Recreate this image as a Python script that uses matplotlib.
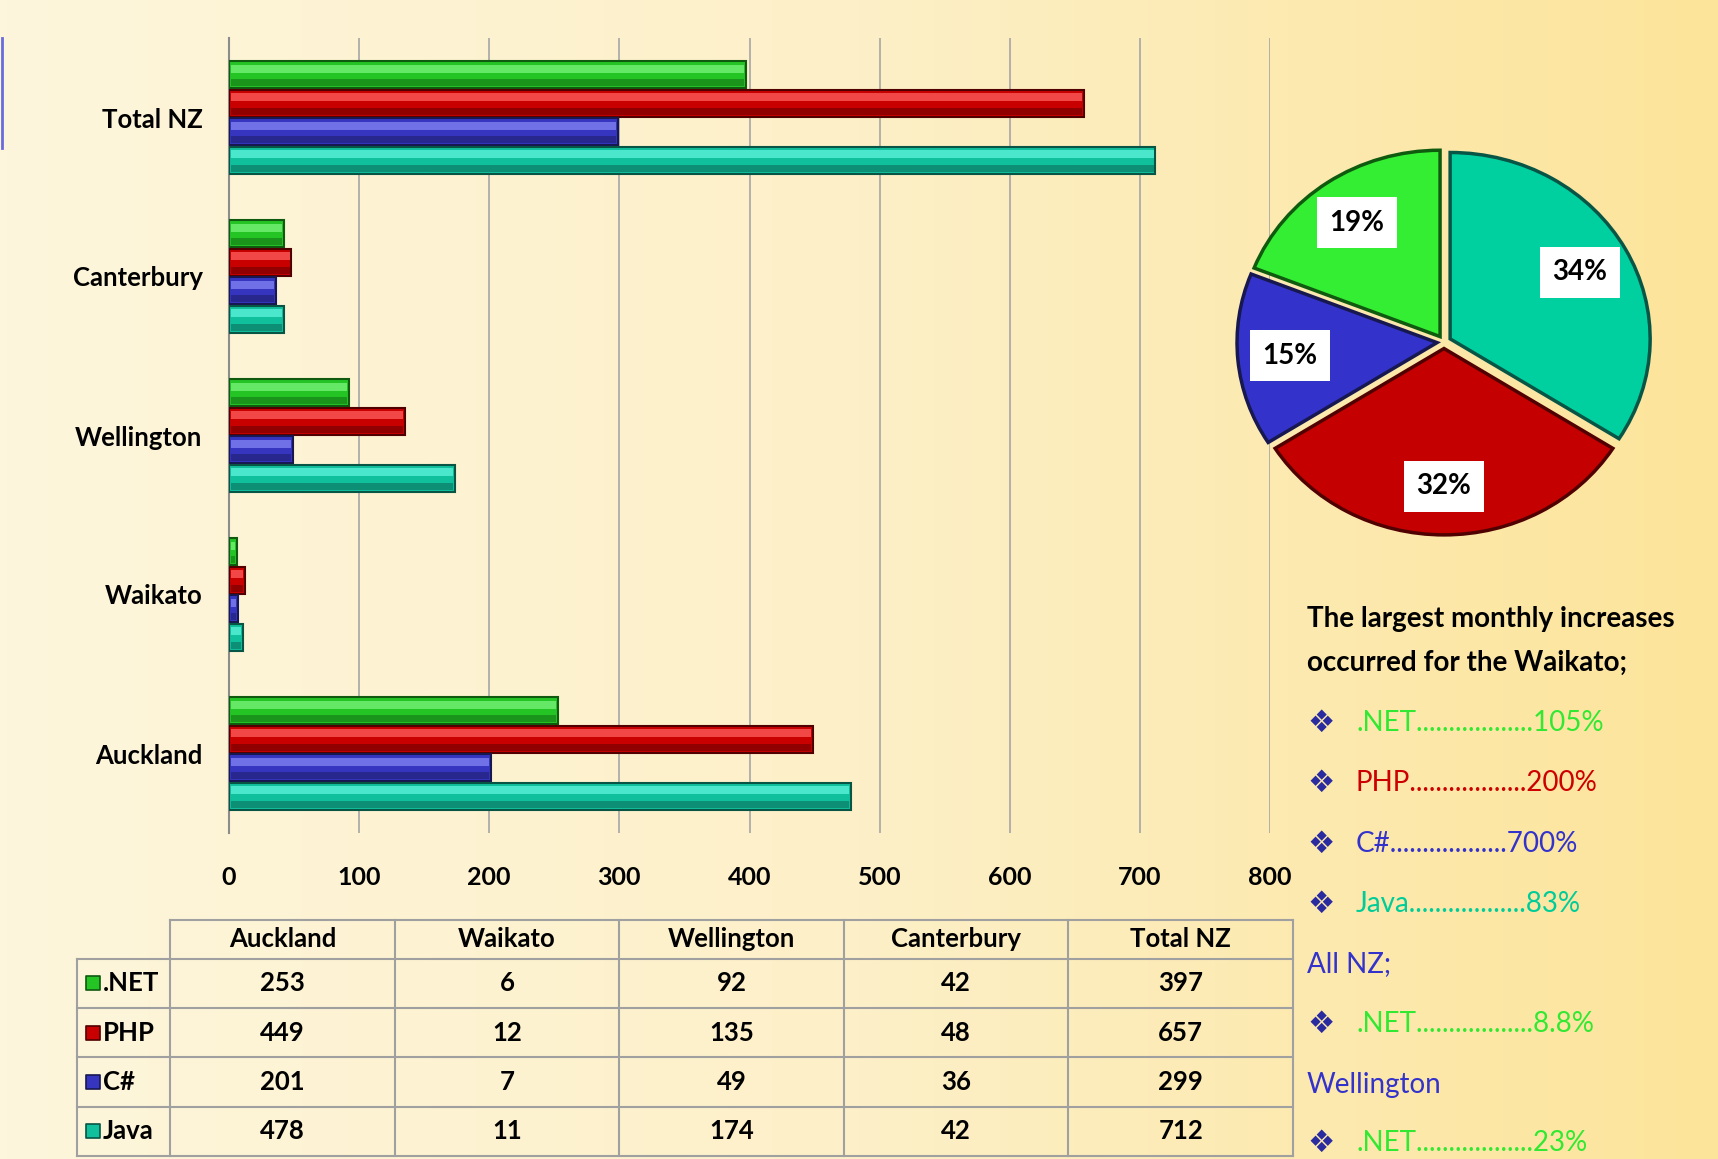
import numpy as np
import matplotlib.pyplot as plt
from matplotlib.colors import LinearSegmentedColormap

plt.rcParams['font.family'] = ['Lato', 'DejaVu Sans']

# Данные
regions = ['Auckland', 'Waikato', 'Wellington', 'Canterbury', 'Total NZ']
langs = ['.NET', 'PHP', 'C#', 'Java']
net_vals = [253, 6, 92, 42, 397]
php_vals = [449, 12, 135, 48, 657]
cs_vals = [201, 7, 49, 36, 299]
java_vals = [478, 11, 174, 42, 712]

# Доли на круговой диаграмме (по часовой стрелке от верха)
pie_names = ['Java', 'PHP', 'C#', '.NET']
pie_pct = [34, 32, 15, 19]

# Прирост за месяц
waikato_incr = ['105%', '200%', '700%', '83%']
allnz_net = '8.8%'
wellington_net = '23%'

# Цвета
base = {'.NET': '#25C425', 'PHP': '#C80000', 'C#': '#3535C0', 'Java': '#10C09C'}
light = {'.NET': '#7CF57C', 'PHP': '#FF6060', 'C#': '#8585F5', 'Java': '#60F5DE'}
dark = {'.NET': '#0F5A0F', 'PHP': '#500000', 'C#': '#181850', 'Java': '#085545'}
pie_col = {'.NET': '#33EE33', 'PHP': '#C40000', 'C#': '#3333CC', 'Java': '#00D0A0'}
txt_col = {'.NET': '#33E833', 'PHP': '#CC0000', 'C#': '#3333CC', 'Java': '#00CC99'}

W, H = 1718, 1159
fig = plt.figure(figsize=(W / 100, H / 100), dpi=100)


def px_axes(x0, y0, x1, y1):
    return fig.add_axes([x0 / W, 1 - y1 / H, (x1 - x0) / W, (y1 - y0) / H])


# Фон с градиентом
bg = fig.add_axes([0, 0, 1, 1], zorder=-10)
cmap = LinearSegmentedColormap.from_list('bg', ['#FEF6DC', '#FDF0C8', '#FCE49A'])
bg.imshow(np.linspace(0, 1, 256)[None, :], aspect='auto', cmap=cmap, extent=[0, 1, 0, 1])
bg.plot([0.001, 0.001], [1 - 38 / H, 1 - 148 / H], color='#6A6AE0', lw=2)
bg.set_xlim(0, 1)
bg.set_ylim(0, 1)
bg.axis('off')

# Столбчатая диаграмма
ax = px_axes(229, 38, 1270, 833)
ax.set_facecolor('none')
y = np.arange(len(regions))
step = 0.179
h = 0.168
series = [net_vals, php_vals, cs_vals, java_vals]
for k, (lang, vals) in enumerate(zip(langs, series)):
    yy = y + (1.5 - k) * step
    vals = np.array(vals)
    ax.barh(yy, vals, height=h, color=base[lang], edgecolor=dark[lang], linewidth=1.5, zorder=3)
    # имитация объёма: светлая полоса сверху, тёмная снизу
    ax.barh(yy + h * 0.22, np.maximum(vals - 3, 0), left=1.5, height=h * 0.3,
            color=light[lang], linewidth=0, alpha=0.75, zorder=4)
    ax.barh(yy - h * 0.3, np.maximum(vals - 3, 0), left=1.5, height=h * 0.25,
            color=dark[lang], linewidth=0, alpha=0.45, zorder=4)

ax.set_xlim(0, 800)
ax.set_ylim(-0.5, 4.5)
ax.set_xticks(range(0, 801, 100))
ax.set_xticklabels([str(v) for v in range(0, 801, 100)], fontsize=18, fontweight='bold')
ax.set_yticks(y)
ax.set_yticklabels(regions, fontsize=18.5, fontweight='bold')
ax.xaxis.grid(True, color='#A6A6A6', lw=1.2)
ax.set_axisbelow(True)
ax.tick_params(axis='x', length=0, pad=24)
ax.tick_params(axis='y', length=0, pad=19)
for s in ['top', 'right', 'bottom']:
    ax.spines[s].set_visible(False)
ax.spines['left'].set_color('#8C8C8C')
ax.spines['left'].set_linewidth(1.5)

# Круговая диаграмма
pax = px_axes(1224, 137, 1664, 547)
wedges, texts, autotexts = pax.pie(
    pie_pct, colors=[pie_col[n] for n in pie_names], startangle=90, counterclock=False,
    explode=[0.035] * 4, autopct=lambda p: f'{p:.0f}%', pctdistance=0.74,
    wedgeprops=dict(linewidth=2.5))
for wdg, n in zip(wedges, pie_names):
    wdg.set_edgecolor(dark[n])
for t in autotexts:
    t.set_fontsize(20)
    t.set_fontweight('bold')
    t.set_color('black')
    t.set_bbox(dict(facecolor='white', edgecolor='none', pad=9))
pax.set_aspect('auto')
pax.set_xlim(-1.1, 1.1)
pax.set_ylim(-1.1, 1.1)

# Таблица
tax = px_axes(77, 920, 1293, 1156)
lab_w = 0.415
hdr_h = 0.78
tax.set_xlim(-lab_w, 5)
tax.set_ylim(0, 4 + hdr_h)
tax.axis('off')
lc = '#A0A0A0'
for yv in range(5):
    tax.plot([-lab_w, 5], [yv, yv], color=lc, lw=1.5, clip_on=False)
tax.plot([0, 5], [4 + hdr_h] * 2, color=lc, lw=1.5, clip_on=False)
tax.plot([-lab_w] * 2, [0, 4], color=lc, lw=1.5, clip_on=False)
for xv in range(6):
    tax.plot([xv, xv], [0, 4 + hdr_h], color=lc, lw=1.5, clip_on=False)
for i, r in enumerate(regions):
    tax.text(i + 0.5, 4 + hdr_h / 2, r, ha='center', va='center', fontsize=18.5, fontweight='bold')
for j, (lang, row) in enumerate(zip(langs, series)):
    yc = 3.5 - j
    tax.scatter(-lab_w + 0.07, yc, marker='s', s=100, color=base[lang], edgecolor=dark[lang], lw=1.2)
    tax.text(-lab_w + 0.115, yc, lang, ha='left', va='center', fontsize=18.5, fontweight='bold')
    for i, v in enumerate(row):
        tax.text(i + 0.5, yc, str(v), ha='center', va='center', fontsize=18.5, fontweight='bold')

# Текст справа
notes = [
    ('The largest monthly increases', 'black', False),
    ('occurred for the Waikato;', 'black', False),
]
for lang, inc in zip(langs, waikato_incr):
    notes.append((lang + '.' * 18 + inc, txt_col[lang], True))
notes.append(('All NZ;', '#3333CC', False))
notes.append(('.NET' + '.' * 18 + allnz_net, txt_col['.NET'], True))
notes.append(('Wellington', '#3333CC', False))
notes.append(('.NET' + '.' * 18 + wellington_net, txt_col['.NET'], True))
ys = [619, 663, 723, 783, 844, 904, 964, 1024, 1085, 1143]
for (txt, col, bullet), yp in zip(notes, ys):
    if bullet:
        fig.text(1321 / W, 1 - yp / H, '\u2756', color='#2B2BA0', fontsize=22,
                 ha='center', va='center', family=['DejaVu Sans'])
        fig.text(1356 / W, 1 - yp / H, txt, color=col, fontsize=20, va='center')
    else:
        fw = 'bold' if col == 'black' else 'normal'
        fig.text(1307 / W, 1 - yp / H, txt, color=col, fontsize=20, va='center', fontweight=fw)

fig.savefig('out.png', dpi=100)
